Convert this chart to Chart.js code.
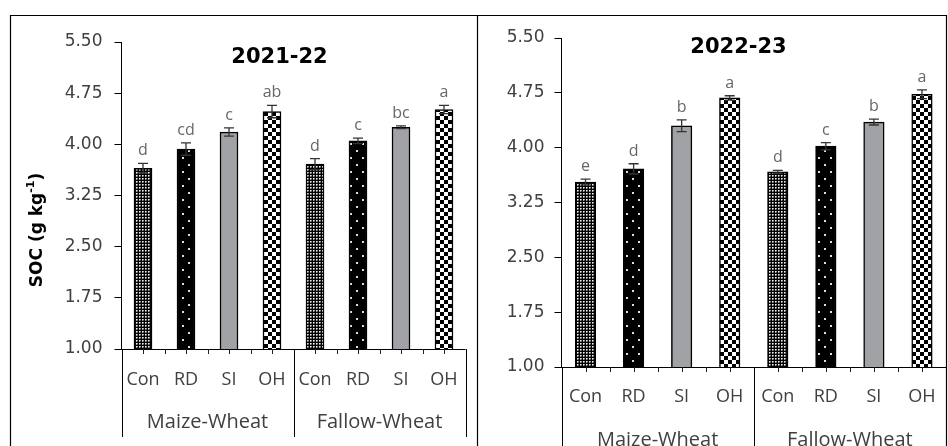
<!DOCTYPE html>
<html><head><meta charset="utf-8">
<script src="https://cdn.jsdelivr.net/npm/chart.js@4.4.0/dist/chart.umd.min.js"></script>
<style>
html,body{margin:0;padding:0;background:#fff;}
#wrap{position:relative;width:948px;height:446px;overflow:hidden;background:#fff;}
canvas{position:absolute;left:0;top:0;}
</style></head>
<body><div id="wrap"><canvas id="c1" width="948" height="446"></canvas><canvas id="c2" width="948" height="446"></canvas></div>
<script>
// ---- data ----
const treatments = ['Con','RD','SI','OH'];
const systems = ['Maize-Wheat','Fallow-Wheat'];
const labels = ['Con','RD','SI','OH','Con','RD','SI','OH'];
const soc2122 = [3.65,3.93,4.18,4.48,3.71,4.05,4.25,4.51];
const err2122 = [0.07,0.09,0.06,0.09,0.08,0.04,0.02,0.06];
const let2122 = ['d','cd','c','ab','d','c','bc','a'];
const soc2223 = [3.53,3.71,4.30,4.68,3.67,4.02,4.35,4.73];
const err2223 = [0.04,0.07,0.08,0.03,0.02,0.05,0.04,0.06];
const let2223 = ['e','d','b','a','d','c','b','a'];
const yTicks = [1.00,1.75,2.50,3.25,4.00,4.75,5.50];

function makePatterns(ctx){
  function tile(w,h,draw){const c=document.createElement('canvas');c.width=w;c.height=h;const g=c.getContext('2d');draw(g);return ctx.createPattern(c,'repeat');}
  const con = tile(3,3,g=>{g.fillStyle='#000';g.fillRect(0,0,3,3);g.fillStyle='#eee';g.fillRect(1,1,1,1);g.fillStyle='#999';g.fillRect(2,1,1,1);g.fillRect(1,2,1,1);g.fillStyle='#444';g.fillRect(2,2,1,1);});
  const rd = tile(12,14,g=>{g.fillStyle='#000';g.fillRect(0,0,12,14);g.fillStyle='#ddd';g.fillRect(2,3,2,2);g.fillRect(8,10,2,2);});
  const si = '#A0A2A5';
  const oh = tile(8,8,g=>{g.fillStyle='#fff';g.fillRect(0,0,8,8);g.fillStyle='#000';g.fillRect(0,0,4,4);g.fillRect(4,4,4,4);});
  return [con,rd,si,oh];
}

function panelPlugin(cfg){
  return {
    id:'panel'+cfg.id,
    afterDatasetsDraw(chart){
      const ctx=chart.ctx, x=chart.scales.x, y=chart.scales.y;
      const meta=chart.getDatasetMeta(0);
      ctx.save();
      meta.data.forEach((bar,i)=>{
        const v=cfg.values[i], e=cfg.errors[i];
        const yt=y.getPixelForValue(v+e), yb=y.getPixelForValue(v-e), cx=bar.x;
        ctx.strokeStyle='#333';ctx.lineWidth=1.3;
        ctx.beginPath();
        ctx.moveTo(cx,yt);ctx.lineTo(cx,yb);
        ctx.moveTo(cx-5,yt);ctx.lineTo(cx+5,yt);
        ctx.moveTo(cx-5,yb);ctx.lineTo(cx+5,yb);
        ctx.stroke();
        ctx.fillStyle='#666';ctx.font='16px "Open Sans"';ctx.textAlign='center';ctx.textBaseline='alphabetic';
        ctx.fillText(cfg.letters[i],cx,yt-8);
      });
      ctx.restore();
    },
    afterDraw(chart){
      const ctx=chart.ctx, x=chart.scales.x, y=chart.scales.y;
      const area=chart.chartArea;
      const base=y.getPixelForValue(1);
      ctx.save();
      ctx.strokeStyle='#000';ctx.lineWidth=1;
      ctx.beginPath();ctx.moveTo(area.left,base+0.5);ctx.lineTo(area.right,base+0.5);ctx.stroke();
      const step=(area.right-area.left)/labels.length;
      ctx.strokeStyle='#222';
      ctx.beginPath();
      for(let k=0;k<=labels.length*2;k++){
        const px=Math.round(area.left+k*step/2)+0.5;
        ctx.moveTo(px,base);ctx.lineTo(px,base+5);
      }
      ctx.stroke();
      ctx.strokeStyle='#000';
      ctx.beginPath();
      [0,4,8].forEach(k=>{const px=Math.round(area.left+k*step)+0.5;ctx.moveTo(px,base);ctx.lineTo(px,cfg.groupBottom);});
      ctx.stroke();
      ctx.fillStyle='#404040';ctx.textAlign='center';ctx.textBaseline='middle';
      ctx.font='18px "Open Sans"';
      labels.forEach((l,i)=>ctx.fillText(l,x.getPixelForValue(i),cfg.innerY));
      ctx.font='20px "Open Sans"';
      systems.forEach((s,g)=>ctx.fillText(s,area.left+(g*4+2)*step,cfg.outerY));
      ctx.fillStyle='#000';ctx.font='bold 21px "DejaVu Sans"';
      ctx.fillText(cfg.title,cfg.titleX,cfg.titleY);
      if(cfg.borders){
        ctx.strokeStyle='#000';ctx.lineWidth=1.2;
        ctx.beginPath();
        ctx.moveTo(10.5,446);ctx.lineTo(10.5,15.5);ctx.lineTo(946.5,15.5);ctx.lineTo(946.5,446);
        ctx.moveTo(477.5,15.5);ctx.lineTo(477.5,446);
        ctx.stroke();
        ctx.save();
        ctx.translate(38,230);ctx.rotate(-Math.PI/2);
        ctx.fillStyle='#000';
        const f1='bold 17px "DejaVu Sans"', f2='bold 11px "DejaVu Sans"';
        ctx.font=f1;const a='SOC (g kg';const wa=ctx.measureText(a).width;
        ctx.font=f2;const s='-1';const ws=ctx.measureText(s).width;
        ctx.font=f1;const b=')';const wb=ctx.measureText(b).width;
        const tot=wa+ws+wb;let px=-tot/2;
        ctx.textAlign='left';ctx.textBaseline='middle';
        ctx.font=f1;ctx.fillText(a,px,0);px+=wa;
        ctx.font=f2;ctx.fillText(s,px,-7);px+=ws;
        ctx.font=f1;ctx.fillText(b,px,0);
        ctx.restore();
      }
      ctx.restore();
    }
  };
}

function build(id,cfg){
  const canvas=document.getElementById(id);
  const ctx=canvas.getContext('2d');
  const pats=makePatterns(ctx);
  return new Chart(canvas,{
    type:'bar',
    data:{labels:labels,datasets:[{data:cfg.values,backgroundColor:cfg.values.map((v,i)=>pats[i%4]),borderColor:'#000',borderWidth:1.5,barThickness:cfg.barW}]},
    options:{
      responsive:false,animation:false,devicePixelRatio:1,
      layout:{padding:cfg.padding},
      plugins:{legend:{display:false},tooltip:{enabled:false},title:{display:false}},
      scales:{
        x:{display:false,grid:{display:false}},
        y:{min:1,max:5.5,
           afterBuildTicks(s){s.ticks=yTicks.map(v=>({value:v}));},
           afterFit(s){s.width=cfg.yW;},
           ticks:{callback:v=>Number(v).toFixed(2),color:'#404040',font:{family:'DejaVu Sans',size:17},padding:cfg.tickPad},
           grid:{drawOnChartArea:false,drawTicks:true,tickLength:7,color:'#000'},
           border:{display:true,color:'#000',width:1}
        }
      }
    },
    plugins:[panelPlugin(cfg)]
  });
}

build('c1',{id:1,values:soc2122,errors:err2122,letters:let2122,title:'2021-22',titleX:279.5,titleY:58,
  barW:18,yW:110,tickPad:12,padding:{left:11.5,right:482.5,top:42,bottom:97},
  innerY:380,outerY:422,groupBottom:437,borders:true});
build('c2',{id:2,values:soc2223,errors:err2223,letters:let2223,title:'2022-23',titleX:738.5,titleY:48,
  barW:20.5,yW:80,tickPad:10,padding:{left:481.5,right:2,top:38,bottom:79},
  innerY:397,outerY:440,groupBottom:446,borders:false});
</script></body></html>
